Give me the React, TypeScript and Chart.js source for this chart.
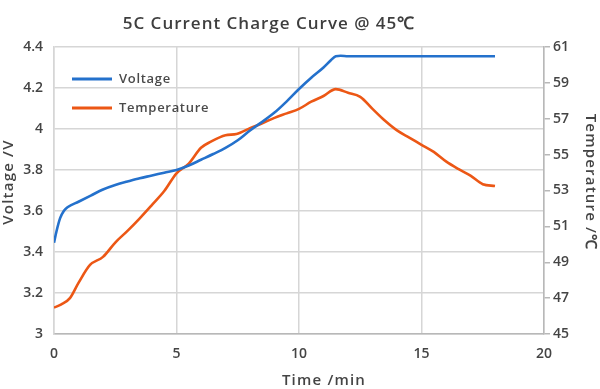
import React, { useEffect, useRef } from "react";
import { Chart, registerables } from "chart.js";

Chart.register(...registerables);

const TITLE = "5C Current Charge Curve @ 45℃";
const X_TITLE = "Time /min";
const Y_TITLE = "Voltage /V";
const Y1_TITLE = "Temperature /℃";

const voltageTime = [0, 0.1, 0.25, 0.4, 0.55, 1, 1.5, 2, 2.5, 3, 3.5, 4, 4.5, 5, 5.5, 6, 6.5, 7, 7.5, 8, 8.5, 9, 9.5, 10, 10.5, 11, 11.3, 11.5, 11.7, 12, 13, 14, 15, 16, 17, 18];
const voltageValues = [3.445, 3.5, 3.565, 3.6, 3.618, 3.645, 3.675, 3.705, 3.727, 3.744, 3.76, 3.773, 3.787, 3.8, 3.822, 3.85, 3.878, 3.908, 3.945, 3.993, 4.035, 4.08, 4.135, 4.195, 4.25, 4.3, 4.335, 4.355, 4.357, 4.355, 4.355, 4.355, 4.355, 4.355, 4.355, 4.355];

const tempTime = [0, 0.3, 0.65, 1, 1.47, 2, 2.5, 3, 3.5, 4, 4.5, 5, 5.5, 6, 6.4, 7, 7.45, 8, 8.5, 9, 9.5, 10, 10.5, 11, 11.5, 12, 12.5, 13, 13.5, 14, 14.5, 15, 15.5, 16, 16.5, 17, 17.5, 18];
const tempValues = [46.47, 46.65, 47.0, 47.85, 48.85, 49.3, 50.1, 50.75, 51.45, 52.2, 52.97, 53.96, 54.5, 55.38, 55.72, 56.08, 56.15, 56.47, 56.75, 57.05, 57.3, 57.55, 57.95, 58.27, 58.65, 58.45, 58.22, 57.55, 56.9, 56.35, 55.95, 55.55, 55.15, 54.62, 54.2, 53.83, 53.35, 53.25];

const xTicks = { min: 0, max: 20, step: 5 };
const yTicks = { min: 3, max: 4.4, step: 0.2 };
const y1Ticks = { min: 45, max: 61, step: 2 };

const seriesNames = ["Voltage", "Temperature"];
const seriesColors = ["#2471cc", "#ec5715"];

const legendPlugin = {
  id: "insideLegend",
  afterDraw(chart: any) {
    const ctx = chart.ctx;
    const opts = chart.options.plugins.insideLegend;
    ctx.save();
    chart.data.datasets.forEach((ds: any, i: number) => {
      const y = opts.y + i * opts.gap;
      ctx.strokeStyle = ds.borderColor;
      ctx.lineWidth = 3;
      ctx.beginPath();
      ctx.moveTo(opts.x, y);
      ctx.lineTo(opts.x + opts.len, y);
      ctx.stroke();
      ctx.fillStyle = "#4a4a4a";
      ctx.font = "600 13px 'Open Sans'";
      (ctx as any).letterSpacing = "0.7px";
      ctx.textBaseline = "middle";
      ctx.fillText(ds.label, opts.x + opts.len + 7, y);
    });
    ctx.restore();
  },
};

const textPlugin = {
  id: "texts",
  afterDraw(chart: any) {
    const ctx = chart.ctx;
    ctx.save();
    ctx.fillStyle = "#3e3e3e";
    ctx.font = "600 17px 'Open Sans'";
    (ctx as any).letterSpacing = "1px";
    ctx.textAlign = "center";
    ctx.textBaseline = "middle";
    ctx.fillText(TITLE, 269, 24);
    ctx.fillStyle = "#444";
    ctx.font = "600 15px 'Open Sans'";
    (ctx as any).letterSpacing = "1.2px";
    ctx.fillText(X_TITLE, 324, 381);
    ctx.save();
    ctx.translate(9, 182);
    ctx.rotate(-Math.PI / 2);
    ctx.fillText(Y_TITLE, 0, 0);
    ctx.restore();
    ctx.save();
    ctx.translate(590, 182);
    ctx.rotate(Math.PI / 2);
    ctx.fillText(Y1_TITLE, 0, 0);
    ctx.restore();
    ctx.restore();
  },
};

export default function App() {
  const ref = useRef<HTMLCanvasElement>(null);
  useEffect(() => {
    if (!ref.current) return;
    const tickFont = { family: "'Open Sans'", size: 14, weight: "600" as any };
    const gridColor = "#d6d6d6";
    const chart = new Chart(ref.current, {
      type: "line",
      data: {
        datasets: [
          {
            label: seriesNames[0],
            data: voltageTime.map((t, i) => ({ x: t, y: voltageValues[i] })),
            borderColor: seriesColors[0],
            backgroundColor: seriesColors[0],
            borderWidth: 2.6,
            pointRadius: 0,
            tension: 0.4,
            cubicInterpolationMode: "monotone",
            yAxisID: "y",
          },
          {
            label: seriesNames[1],
            data: tempTime.map((t, i) => ({ x: t, y: tempValues[i] })),
            borderColor: seriesColors[1],
            backgroundColor: seriesColors[1],
            borderWidth: 2.6,
            pointRadius: 0,
            tension: 0.4,
            cubicInterpolationMode: "monotone",
            yAxisID: "y1",
          },
        ],
      },
      options: {
        animation: false,
        responsive: false,
        layout: { padding: { top: 47, left: 0, right: 0, bottom: 0 } },
        plugins: {
          legend: { display: false },
          tooltip: { enabled: false },
          insideLegend: { x: 72, y: 79, gap: 29, len: 40 },
        } as any,
        scales: {
          x: {
            type: "linear",
            min: xTicks.min,
            max: xTicks.max,
            ticks: { stepSize: xTicks.step, font: tickFont, color: "#444", padding: 12 },
            grid: { color: gridColor, lineWidth: 1.5, drawTicks: false },
            border: { color: "#b8b8b8", width: 1.5 },
            afterFit(scale: any) { scale.height = 55; },
          },
          y: {
            type: "linear",
            position: "left",
            min: yTicks.min,
            max: yTicks.max,
            ticks: { stepSize: yTicks.step, font: tickFont, color: "#444", padding: 11, callback: (v: any) => String(Math.round(v * 10) / 10) },
            grid: { color: gridColor, lineWidth: 1.5, drawTicks: false },
            border: { color: gridColor, width: 1.5 },
            afterFit(scale: any) { scale.width = 54; },
          },
          y1: {
            type: "linear",
            position: "right",
            min: y1Ticks.min,
            max: y1Ticks.max,
            ticks: { stepSize: y1Ticks.step, font: tickFont, color: "#444", padding: 3 },
            grid: { drawOnChartArea: false, color: "#b8b8b8", tickLength: 6, lineWidth: 1.5 },
            border: { color: "#b8b8b8", width: 1.5 },
            afterFit(scale: any) { scale.width = 56; },
          },
        },
      },
      plugins: [legendPlugin, textPlugin],
    });
    return () => chart.destroy();
  }, []);
  return (
    <div style={{ position: "fixed", left: 0, top: 0, width: 600, height: 389, background: "#fff" }}>
      <canvas ref={ref} width={600} height={389} />
    </div>
  );
}
